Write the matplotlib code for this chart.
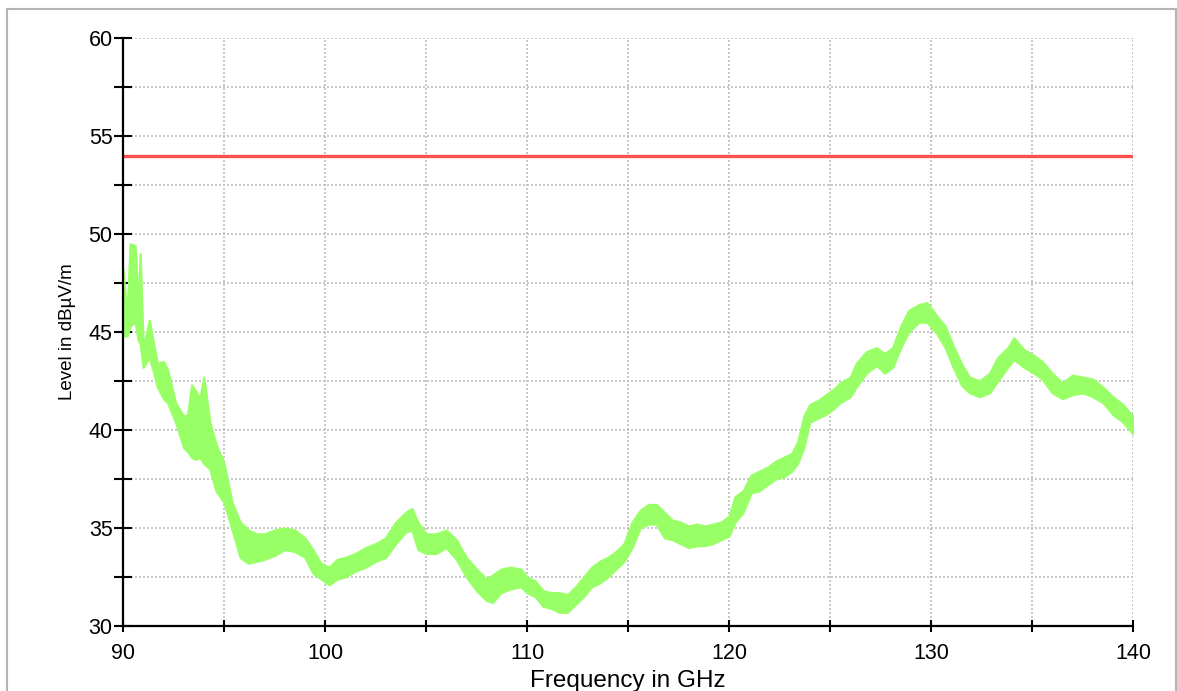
import matplotlib
matplotlib.use("Agg")
import matplotlib.pyplot as plt
from matplotlib.lines import Line2D
from matplotlib.ticker import MultipleLocator

plt.rcParams['font.family'] = ['Liberation Sans', 'DejaVu Sans']

# ---- data ----
freq = [90.0, 90.2, 90.35, 90.6, 90.75, 90.85, 91.0, 91.3, 91.5, 91.7, 92.0, 92.2,
        92.6, 93.0, 93.2, 93.4, 93.6, 93.8, 94.0, 94.3, 94.6, 95.0, 95.4, 95.8,
        96.2, 96.6, 97.0, 97.5, 98.0, 98.5, 99.0, 99.4, 99.8, 100.2, 100.6, 101.0,
        101.5, 102.0, 102.5, 103.0, 103.5, 104.0, 104.3, 104.6, 105.0, 105.5, 106.0,
        106.5, 107.0, 107.5, 108.0, 108.3, 108.7, 109.2, 109.7, 110.0, 110.4, 110.8,
        111.2, 111.6, 112.0, 112.4, 112.8, 113.2, 113.6, 114.0, 114.4, 114.8, 115.2,
        115.6, 116.0, 116.4, 116.8, 117.2, 117.6, 118.0, 118.4, 118.8, 119.2, 119.6,
        120.0, 120.3, 120.7, 121.1, 121.5, 121.9, 122.3, 122.7, 123.1, 123.4, 123.7,
        124.0, 124.4, 124.8, 125.2, 125.5, 126.0, 126.3, 126.8, 127.3, 127.7, 128.1,
        128.5, 128.9, 129.4, 129.8, 130.3, 130.7, 131.1, 131.5, 131.9, 132.4, 132.9,
        133.3, 133.8, 134.1, 134.6, 135.1, 135.5, 136.0, 136.5, 137.0, 137.5, 138.0,
        138.5, 139.0, 139.5, 140.0]
level_upper = [48.2, 45.8, 49.5, 49.4, 46.2, 49.0, 44.2, 45.6, 44.5, 43.4, 43.5, 43.1,
               41.4, 40.7, 40.8, 42.3, 42.0, 41.6, 42.7, 40.4, 39.3, 38.3, 36.3, 35.3,
               34.9, 34.7, 34.7, 34.9, 35.0, 34.9, 34.5, 33.9, 33.2, 33.0, 33.4, 33.5,
               33.7, 34.0, 34.2, 34.5, 35.3, 35.8, 36.0, 35.3, 34.7, 34.7, 34.9,
               34.4, 33.5, 32.9, 32.4, 32.6, 32.9, 33.0, 32.9, 32.5, 32.3, 31.8,
               31.7, 31.7, 31.6, 32.0, 32.5, 33.0, 33.3, 33.5, 33.8, 34.2, 35.3,
               35.9, 36.2, 36.2, 35.8, 35.4, 35.3, 35.1, 35.2, 35.1, 35.2, 35.3,
               35.6, 36.6, 36.9, 37.7, 37.9, 38.1, 38.4, 38.6, 38.8, 39.4, 40.7,
               41.3, 41.5, 41.8, 42.1, 42.4, 42.7, 43.4, 44.0, 44.2, 43.9, 44.2,
               45.3, 46.1, 46.4, 46.5, 45.8, 45.3, 44.3, 43.4, 42.7, 42.5, 42.9,
               43.7, 44.2, 44.7, 44.1, 43.8, 43.5, 42.9, 42.4, 42.8, 42.7, 42.6,
               42.2, 41.7, 41.3, 40.7]
level_lower = [44.8, 44.8, 45.3, 45.5, 44.6, 44.4, 43.2, 43.7, 43.0, 42.2, 41.6, 41.4,
               40.4, 39.1, 38.9, 38.6, 38.5, 38.6, 38.3, 38.0, 36.9, 36.3, 34.9, 33.5,
               33.2, 33.3, 33.4, 33.6, 33.9, 33.8, 33.5, 32.7, 32.4, 32.1, 32.4, 32.5,
               32.8, 33.0, 33.3, 33.5, 34.2, 34.8, 34.9, 33.9, 33.7, 33.7, 34.0,
               33.4, 32.5, 31.8, 31.3, 31.2, 31.7, 31.9, 32.0, 31.7, 31.5, 31.0,
               30.9, 30.7, 30.7, 31.1, 31.5, 32.0, 32.2, 32.5, 32.9, 33.3, 34.0,
               35.0, 35.2, 35.2, 34.5, 34.4, 34.2, 34.0, 34.1, 34.1, 34.2, 34.4,
               34.6, 35.3, 35.8, 36.8, 36.9, 37.2, 37.5, 37.6, 37.9, 38.3, 39.1,
               40.4, 40.6, 40.8, 41.1, 41.4, 41.7, 42.2, 42.9, 43.3, 42.9, 43.2,
               44.2, 45.0, 45.5, 45.5, 44.9, 44.2, 43.2, 42.3, 41.9, 41.7, 41.9,
               42.5, 43.2, 43.6, 43.2, 42.9, 42.6, 41.9, 41.6, 41.8, 41.9, 41.7,
               41.4, 40.8, 40.4, 39.8]
limit_freq = [90, 140]
limit_level = [54, 54]

x_range = (90, 140)
y_range = (30, 60)
x_tick_labels = [90, 100, 110, 120, 130, 140]
y_tick_labels = [30, 35, 40, 45, 50, 55, 60]

# ---- figure ----
fig = plt.figure(figsize=(11.77, 6.91), dpi=100)
fig.patch.set_facecolor('white')

# outer light-gray frame
W, H = 1177, 691
frame_kw = dict(color='#b4b4b4', lw=1.5, transform=fig.transFigure)
fig.add_artist(Line2D([7 / W, 7 / W], [0, 1 - 9 / H], **frame_kw))
fig.add_artist(Line2D([7 / W, 1176 / W], [1 - 9 / H, 1 - 9 / H], **frame_kw))
fig.add_artist(Line2D([1176 / W, 1176 / W], [0, 1 - 9 / H], **frame_kw))

ax = fig.add_axes([123 / W, 1 - 626 / H, (1133 - 123) / W, (626 - 38) / H])
ax.set_xlim(*x_range)
ax.set_ylim(*y_range)

ax.fill_between(freq, level_lower, level_upper, color='#99ff66', lw=1.6,
                edgecolor='#99ff66', zorder=3)
ax.plot(limit_freq, limit_level, color='#ff5050', lw=2.4, zorder=4,
        solid_capstyle='butt')

ax.xaxis.set_major_locator(MultipleLocator(10))
ax.xaxis.set_minor_locator(MultipleLocator(5))
ax.yaxis.set_major_locator(MultipleLocator(5))
ax.yaxis.set_minor_locator(MultipleLocator(2.5))
ax.set_xticks(x_tick_labels)
ax.set_xticklabels([str(v) for v in x_tick_labels])
ax.set_yticks(y_tick_labels)
ax.set_yticklabels([str(v) for v in y_tick_labels])

ax.grid(True, which='both', color='#bdbdbd', linestyle=(0, (1.2, 1.2)), lw=1.2)
ax.set_axisbelow(True)

for s in ['top', 'right']:
    ax.spines[s].set_visible(False)
for s in ['left', 'bottom']:
    ax.spines[s].set_linewidth(1.6)
    ax.spines[s].set_color('black')
    ax.spines[s].set_zorder(5)

ax.tick_params(axis='y', which='both', direction='inout', length=13, width=1.5,
               labelsize=15.5, pad=1, colors='black')
ax.tick_params(axis='x', which='both', direction='inout', length=9, width=1.5,
               labelsize=15.5, pad=8, colors='black')

ax.set_xlabel('Frequency in GHz', fontsize=17.5, labelpad=4)
ax.set_ylabel('Level in dBµV/m', fontsize=13.5, labelpad=9)

fig.savefig('out.png', dpi=100, facecolor='white')
